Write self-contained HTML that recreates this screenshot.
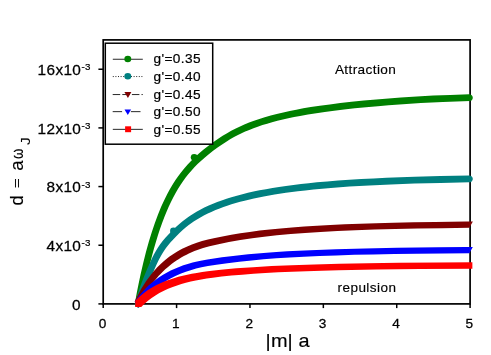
<!DOCTYPE html><html><head><meta charset="utf-8"><style>html,body{margin:0;padding:0;background:#fff}svg{display:block;will-change:transform}text{font-family:"Liberation Sans",sans-serif;fill:#000;stroke:#000;stroke-width:0.14px}</style></head><body>
<svg width="491" height="355" viewBox="0 0 491 355">
<rect width="491" height="355" fill="#fff"/>
<rect x="103.20" y="39.90" width="366.90" height="264.00" fill="none" stroke="#000" stroke-width="1.7"/>
<line x1="103.20" y1="303.90" x2="103.20" y2="308.10" stroke="#000" stroke-width="1.5"/>
<line x1="176.58" y1="303.90" x2="176.58" y2="308.10" stroke="#000" stroke-width="1.5"/>
<line x1="249.96" y1="303.90" x2="249.96" y2="308.10" stroke="#000" stroke-width="1.5"/>
<line x1="323.34" y1="303.90" x2="323.34" y2="308.10" stroke="#000" stroke-width="1.5"/>
<line x1="396.72" y1="303.90" x2="396.72" y2="308.10" stroke="#000" stroke-width="1.5"/>
<line x1="470.10" y1="303.90" x2="470.10" y2="308.10" stroke="#000" stroke-width="1.5"/>
<line x1="98.40" y1="303.90" x2="103.20" y2="303.90" stroke="#000" stroke-width="1.5"/>
<line x1="98.40" y1="245.23" x2="103.20" y2="245.23" stroke="#000" stroke-width="1.5"/>
<line x1="98.40" y1="186.57" x2="103.20" y2="186.57" stroke="#000" stroke-width="1.5"/>
<line x1="98.40" y1="127.90" x2="103.20" y2="127.90" stroke="#000" stroke-width="1.5"/>
<line x1="98.40" y1="69.23" x2="103.20" y2="69.23" stroke="#000" stroke-width="1.5"/>
<text transform="translate(102.45 328.20) scale(1.050 1.000)" font-size="13" letter-spacing="0" text-anchor="middle" style="stroke-width:0.25px">0</text>
<text transform="translate(175.83 328.20) scale(1.050 1.000)" font-size="13" letter-spacing="0" text-anchor="middle" style="stroke-width:0.25px">1</text>
<text transform="translate(249.21 328.20) scale(1.050 1.000)" font-size="13" letter-spacing="0" text-anchor="middle" style="stroke-width:0.25px">2</text>
<text transform="translate(322.59 328.20) scale(1.050 1.000)" font-size="13" letter-spacing="0" text-anchor="middle" style="stroke-width:0.25px">3</text>
<text transform="translate(395.97 328.20) scale(1.050 1.000)" font-size="13" letter-spacing="0" text-anchor="middle" style="stroke-width:0.25px">4</text>
<text transform="translate(469.35 328.20) scale(1.050 1.000)" font-size="13" letter-spacing="0" text-anchor="middle" style="stroke-width:0.25px">5</text>
<text transform="translate(81.30 251.03) scale(1.060 1.000)" font-size="14.5" letter-spacing="0.35" text-anchor="end" style="stroke-width:0.25px">4x10</text>
<text transform="translate(81.60 246.33) scale(1.050 1.000)" font-size="9.3" letter-spacing="0.2" text-anchor="start" style="stroke-width:0.2px">-3</text>
<text transform="translate(81.30 192.37) scale(1.060 1.000)" font-size="14.5" letter-spacing="0.35" text-anchor="end" style="stroke-width:0.25px">8x10</text>
<text transform="translate(81.60 187.67) scale(1.050 1.000)" font-size="9.3" letter-spacing="0.2" text-anchor="start" style="stroke-width:0.2px">-3</text>
<text transform="translate(81.30 133.70) scale(1.060 1.000)" font-size="14.5" letter-spacing="0.35" text-anchor="end" style="stroke-width:0.25px">12x10</text>
<text transform="translate(81.60 129.00) scale(1.050 1.000)" font-size="9.3" letter-spacing="0.2" text-anchor="start" style="stroke-width:0.2px">-3</text>
<text transform="translate(81.30 75.03) scale(1.060 1.000)" font-size="14.5" letter-spacing="0.35" text-anchor="end" style="stroke-width:0.25px">16x10</text>
<text transform="translate(81.60 70.33) scale(1.050 1.000)" font-size="9.3" letter-spacing="0.2" text-anchor="start" style="stroke-width:0.2px">-3</text>
<text transform="translate(80.60 309.70) scale(1.060 1.000)" font-size="14.5" letter-spacing="0" text-anchor="end" style="stroke-width:0.25px">0</text>
<text transform="translate(334.90 74.00) scale(1.050 1.000)" font-size="13" letter-spacing="0.36" text-anchor="start">Attraction</text>
<text transform="translate(337.50 292.00) scale(1.050 1.000)" font-size="12.9" letter-spacing="0.42" text-anchor="start">repulsion</text>
<text transform="translate(265.60 347.40) scale(1.050 1.000)" font-size="19" letter-spacing="0.1" text-anchor="start">|m| a</text>
<text transform="translate(23.40 205.60) rotate(-90) scale(1.000 1.000)" font-size="18.5" letter-spacing="0" text-anchor="start">d</text>
<text transform="translate(20.80 187.90) rotate(-90) scale(0.900 0.720)" font-size="18.5" letter-spacing="0" text-anchor="start">=</text>
<text transform="translate(23.40 170.80) rotate(-90) scale(1.000 1.000)" font-size="18.5" letter-spacing="0" text-anchor="start">a</text>
<text transform="translate(23.10 158.90) rotate(-90) scale(0.800 1.000)" font-size="16.6" letter-spacing="0" text-anchor="start">ω</text>
<text transform="translate(30.00 145.00) rotate(-90) scale(1.180 1.000)" font-size="13.2" letter-spacing="0" text-anchor="start">J</text>
<path d="M141.46 304.94L143.35 294.91L145.05 286.32L146.78 278.07L148.51 270.32L150.33 262.62L152.17 255.33L154.05 248.37L155.97 241.68L157.94 235.27L160.07 228.78L162.13 222.92L164.29 217.21L166.44 211.89L168.69 206.72L171.07 201.65L173.34 197.14L175.77 192.66L178.07 188.74L180.47 184.91L183.01 181.18L185.66 177.54L188.45 174.02L191.35 170.63L194.39 167.32L197.55 164.12L201.19 160.69L204.92 157.40L208.80 154.18L213.11 150.82L217.58 147.52L222.09 144.40L226.31 141.66L230.10 139.35L234.03 137.11L237.96 135.04L241.55 133.27L245.18 131.61L249.26 129.88L253.48 128.23L257.72 126.69L262.44 125.11L267.17 123.65L272.02 122.27L277.42 120.84L282.83 119.51L288.24 118.29L294.14 117.05L300.05 115.91L307.94 114.51L316.34 113.17L324.73 111.95L334.13 110.72L344.03 109.53L354.78 108.35L366.04 107.22L377.81 106.15L388.57 105.25L399.32 104.45L410.07 103.73L420.82 103.10L442.85 102.05L469.91 101.11L470.76 100.85L471.52 100.38L472.14 99.73L472.38 99.36L472.69 98.52L472.78 97.63L472.64 96.75L472.28 95.94L471.72 95.24L470.99 94.72L470.16 94.40L469.27 94.31L450.28 94.92L433.31 95.62L416.85 96.47L400.89 97.48L388.54 98.40L376.19 99.42L363.84 100.56L351.49 101.82L340.26 103.08L329.79 104.38L319.81 105.74L310.81 107.11L303.31 108.37L296.30 109.65L289.78 110.96L283.26 112.39L276.74 113.95L270.71 115.53L264.74 117.24L259.37 118.92L254.01 120.75L249.11 122.57L244.31 124.53L240.04 126.43L235.77 128.48L231.20 130.87L227.08 133.20L222.66 135.87L217.83 139.02L212.77 142.56L208.15 146.00L203.30 149.84L198.92 153.54L195.02 157.07L191.27 160.71L187.66 164.50L184.19 168.45L181.19 172.14L178.33 175.96L175.32 180.30L172.49 184.74L169.82 189.30L167.28 193.97L164.68 199.14L162.89 202.94L161.14 206.87L157.92 214.71L154.78 223.15L151.75 232.15L148.81 241.79L145.96 252.08L143.16 263.19L140.56 274.49L138.81 282.68L137.03 291.56L134.84 303.29L134.79 304.19L134.98 305.06L135.16 305.47L135.67 306.20L135.99 306.51L136.75 306.99L137.16 307.16L138.04 307.32L138.49 307.31L138.93 307.24L139.77 306.94L140.15 306.71L140.81 306.11L141.30 305.36Z" fill="#008000"/>
<ellipse cx="194.2" cy="157.3" rx="3.45" ry="3.4" fill="#008000"/>
<path d="M141.32 305.29L144.60 294.93L146.23 290.12L147.84 285.66L149.64 280.90L151.39 276.50L155.02 267.99L156.71 264.28L158.48 260.61L160.08 257.50L161.78 254.43L163.30 251.89L164.93 249.41L166.35 247.44L168.14 245.13L170.37 242.50L173.43 239.15L176.56 235.91L179.77 232.77L182.71 230.07L185.33 227.83L188.40 225.37L191.21 223.30L194.04 221.34L197.38 219.21L200.79 217.20L204.27 215.30L207.80 213.52L211.87 211.63L215.50 210.07L219.68 208.40L223.45 207.01L227.22 205.71L231.48 204.34L235.75 203.06L240.16 201.84L244.58 200.69L253.91 198.51L263.76 196.50L274.60 194.59L285.95 192.86L297.81 191.30L305.31 190.42L313.48 189.56L322.17 188.72L330.87 187.97L349.30 186.62L369.27 185.45L390.79 184.46L414.37 183.62L440.52 182.93L469.42 182.37L470.30 182.24L471.12 181.89L471.82 181.33L472.36 180.61L472.68 179.78L472.76 179.34L472.75 178.45L472.50 177.59L472.30 177.19L471.74 176.49L471.03 175.96L470.20 175.63L469.31 175.53L440.36 176.09L414.67 176.77L400.28 177.25L386.40 177.80L373.54 178.38L361.20 179.04L349.36 179.76L338.04 180.55L327.22 181.41L316.92 182.34L308.67 183.18L300.97 184.03L293.48 184.94L285.99 185.94L278.99 186.97L272.49 188.00L265.98 189.13L259.48 190.36L253.46 191.61L247.93 192.84L242.41 194.18L236.87 195.64L231.41 197.21L226.53 198.73L221.65 200.39L217.23 202.01L212.41 203.94L208.14 205.80L203.87 207.83L200.18 209.73L196.49 211.78L192.91 213.93L189.36 216.25L185.94 218.66L182.60 221.22L179.36 223.92L176.21 226.73L172.82 229.98L169.15 233.72L165.61 237.56L162.84 240.80L160.55 243.76L158.99 245.98L157.50 248.27L155.86 251.00L154.29 253.82L152.60 257.08L150.96 260.44L147.46 268.17L143.85 276.92L140.68 285.32L139.11 289.80L137.43 294.83L135.83 299.93L134.82 303.36L134.80 304.25L134.88 304.69L135.19 305.53L135.43 305.91L136.05 306.56L136.41 306.81L136.81 307.02L137.66 307.28L138.11 307.32L139.00 307.23L139.42 307.09L140.21 306.67L140.55 306.38L141.12 305.69Z" fill="#008080"/>
<ellipse cx="173.5" cy="231.0" rx="3.45" ry="3.4" fill="#008080"/>
<path d="M153.53 271.47L150.91 274.63L148.41 277.89L146.03 281.26L143.49 285.14L141.11 289.10L138.86 293.15L136.72 297.29L134.70 301.50L138.20 307.80L141.70 301.50L143.49 297.76L145.20 294.40L148.12 289.68L151.32 285.01L153.15 282.54L155.04 280.14L158.72 275.86L160.80 273.63L162.99 271.43L165.23 269.32L167.13 267.63L169.48 265.66L171.87 263.79L173.93 262.26L176.44 260.52L178.59 259.13L181.19 257.55L183.87 256.04L186.55 254.64L188.87 253.52L191.65 252.27L194.47 251.11L197.35 250.03L203.11 248.11L209.50 246.32L213.97 245.22L218.44 244.21L228.87 242.12L240.30 240.12L252.22 238.32L264.14 236.77L276.88 235.37L290.74 234.09L305.11 232.97L320.51 231.97L337.45 231.06L355.41 230.28L374.40 229.62L394.94 229.04L417.52 228.55L442.16 228.15L469.37 227.82L472.87 221.52L465.87 221.52L435.07 221.90L413.51 222.26L393.49 222.69L376.04 223.16L360.13 223.68L344.73 224.28L330.35 224.94L317.01 225.67L304.18 226.49L291.86 227.41L280.56 228.38L269.78 229.44L259.65 230.59L249.72 231.88L240.28 233.27L231.34 234.74L222.39 236.38L214.94 237.91L207.99 239.51L202.03 241.10L196.73 242.73L191.93 244.44L187.22 246.38L184.44 247.66L182.16 248.79L177.69 251.25L173.37 253.94L169.19 256.86L165.19 260.01L162.87 262.00L160.96 263.73L157.30 267.33Z" fill="#800000"/>
<path d="M158.75 277.48L155.02 280.14L151.82 282.67L148.74 285.36L145.80 288.19L142.98 291.16L139.97 294.68L137.43 297.93L134.75 301.70L138.20 307.80L141.20 303.61L144.41 299.58L147.82 295.76L151.07 292.51L154.48 289.44L158.47 286.24L162.20 283.58L166.50 280.84L170.95 278.32L175.97 275.81L181.07 273.58L185.86 271.75L190.66 270.15L196.06 268.62L201.52 267.32L207.98 266.04L216.42 264.66L227.35 263.14L239.31 261.69L251.63 260.39L263.43 259.34L276.26 258.36L289.61 257.51L303.98 256.73L319.38 256.04L336.32 255.41L354.29 254.87L373.28 254.41L394.32 254.01L416.91 253.67L469.37 253.16L472.82 247.06L465.92 247.06L437.59 247.30L397.03 247.81L364.70 248.43L335.95 249.21L310.29 250.18L298.48 250.74L287.19 251.35L276.41 252.02L266.65 252.71L257.42 253.45L248.18 254.29L239.45 255.19L230.86 256.17L221.91 257.30L213.97 258.41L207.51 259.42L202.04 260.40L197.08 261.44L192.61 262.52L187.69 263.91L183.37 265.31L179.05 266.91L174.84 268.66L170.67 270.60L166.61 272.70L162.62 275.00Z" fill="#0000FF"/>
<path d="M162.51 282.31L159.26 283.76L156.05 285.34L152.92 287.03L149.86 288.86L146.88 290.82L143.98 292.93L141.20 295.16L138.89 297.17L137.02 298.92L135.20 300.75L135.20 307.05L141.20 307.05L144.51 303.81L147.99 300.80L151.63 298.00L155.43 295.43L159.37 293.08L163.41 290.95L168.04 288.81L172.76 286.91L177.08 285.38L181.41 284.01L185.84 282.77L190.81 281.54L195.78 280.47L201.24 279.44L206.71 278.55L212.67 277.71L221.68 276.62L231.43 275.62L242.21 274.67L253.50 273.82L265.31 273.06L278.14 272.37L292.00 271.74L306.37 271.19L321.77 270.70L338.71 270.26L376.18 269.54L419.81 269.02L472.37 268.66L472.37 262.36L437.94 262.52L398.92 262.87L367.61 263.28L339.38 263.80L314.23 264.45L291.64 265.21L271.63 266.09L253.15 267.14L236.21 268.37L220.81 269.78L214.14 270.49L207.66 271.28L202.20 272.03L196.73 272.89L191.77 273.78L187.29 274.69L182.82 275.71L178.35 276.87L173.96 278.15L170.12 279.40L166.28 280.79Z" fill="#FF0000"/>
<rect x="105.3" y="43.2" width="107.4" height="101" fill="#fff" stroke="#000" stroke-width="1.5"/>
<line x1="112.8" y1="59.25" x2="142.8" y2="59.25" stroke="#000" stroke-width="0.85"/>
<ellipse cx="127.8" cy="59.00" rx="3.45" ry="3.3" fill="#008000"/>
<line x1="112.8" y1="76.55" x2="142.8" y2="76.55" stroke="#000" stroke-width="0.85" stroke-dasharray="1 1.6"/>
<ellipse cx="127.8" cy="76.30" rx="3.45" ry="3.3" fill="#008080"/>
<line x1="112.7" y1="94.55" x2="142.8" y2="94.55" stroke="#000" stroke-width="0.85" stroke-dasharray="7.5 2.1"/>
<path d="M124.4 92.00 L131.4 92.00 L127.9 98.00 Z" fill="#800000"/>
<line x1="112.7" y1="111.65" x2="122.1" y2="111.65" stroke="#000" stroke-width="0.85"/>
<line x1="130.9" y1="111.65" x2="140.5" y2="111.65" stroke="#000" stroke-width="0.85"/>
<path d="M124.5 109.40 L131.1 109.40 L127.8 115.10 Z" fill="#0000FF"/>
<line x1="112.8" y1="129.35" x2="142.8" y2="129.35" stroke="#000" stroke-width="0.85"/>
<rect x="125.1" y="126.30" width="6" height="5.9" fill="#FF0000"/>
<text transform="translate(153.40 63.00) scale(1.050 1.000)" font-size="13" letter-spacing="0.4" text-anchor="start" style="stroke-width:0.2px">g'=0.35</text>
<text transform="translate(153.40 80.80) scale(1.050 1.000)" font-size="13" letter-spacing="0.4" text-anchor="start" style="stroke-width:0.2px">g'=0.40</text>
<text transform="translate(153.40 98.55) scale(1.050 1.000)" font-size="13" letter-spacing="0.4" text-anchor="start" style="stroke-width:0.2px">g'=0.45</text>
<text transform="translate(153.40 116.30) scale(1.050 1.000)" font-size="13" letter-spacing="0.4" text-anchor="start" style="stroke-width:0.2px">g'=0.50</text>
<text transform="translate(153.40 134.10) scale(1.050 1.000)" font-size="13" letter-spacing="0.4" text-anchor="start" style="stroke-width:0.2px">g'=0.55</text>
</svg></body></html>
